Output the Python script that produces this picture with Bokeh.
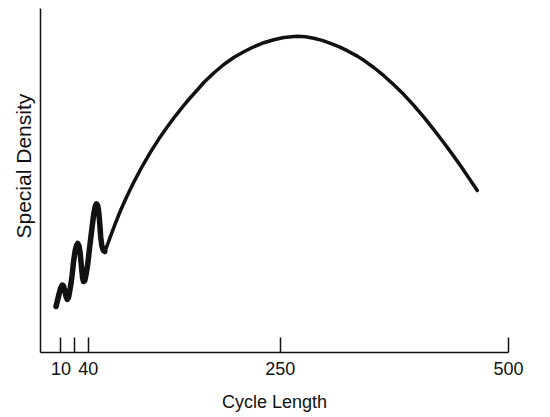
from bokeh.plotting import figure
from bokeh.models import Range1d, FixedTicker, Title
from bokeh.embed import file_html
from bokeh.resources import INLINE

# Curve (cycle length, spectral density in arbitrary units)
cycle_len = [4.6, 6.2, 7.9, 9.5, 11.4, 12.8, 14.1, 15.5, 16.9, 18.3, 19.7, 21.0,
             22.3, 23.7, 25.4, 27.0, 28.4, 29.9, 31.2, 32.5, 33.6, 34.7, 36.1, 37.7,
             39.4, 41.0, 42.7, 44.3, 46.0, 47.6, 48.9, 50.2, 51.3, 52.4, 53.5, 54.7,
             56.4, 58.0,
             61.0, 64.2, 69.7, 75.2, 82.5, 89.8, 99.0, 108.0, 117.1, 126.3, 135.4,
             144.5, 151.8, 159.2, 166.4, 177.3, 188.3, 199.2, 210.2, 221.1, 232.1,
             243.0, 254.0, 268.7, 277.8, 286.8, 296.0, 305.1, 314.2, 323.4, 334.4,
             341.6, 352.5, 363.5, 374.4, 385.4, 396.3, 407.3, 418.2, 429.2, 438.4,
             447.5, 456.6, 465.8]
density = [46, 52, 58.5, 64, 67.5, 66.5, 62, 56, 53, 55, 62, 69,
           78, 90, 101, 107, 109, 106, 98, 85, 75, 71, 72, 79,
           89, 102, 115, 127, 139, 146.5, 148.7, 147, 141, 130, 116, 107,
           102, 101,
           108, 116.2, 129.4, 142, 156.8, 170.4, 186.2, 200.4, 213.4, 225.5, 236.7,
           247.1, 255, 262.5, 270, 279.5, 288, 295, 300.7, 305.7, 309.8,
           312.8, 315, 316.3, 315.7, 314.3, 312.1, 309.2, 305.8, 301.8, 296.4,
           292.2, 285, 276.8, 267.8, 257.9, 247.1, 235.3, 222.8, 209.8, 198.4,
           186.7, 174.6, 162]
n_wiggle = 38  # the short-cycle wiggles are drawn bolder

tick_values = [10, 25, 40, 250, 500]
tick_labels = ["10", "", "40", "250", "500"]

FONT = "Liberation Sans"
INK = "#111111"

p = figure(frame_width=468, frame_height=344, output_backend="svg",
           toolbar_location=None,
           x_range=Range1d(-12.4, 500), y_range=Range1d(0, 344),
           min_border_left=40, min_border_right=34, min_border_top=8,
           min_border_bottom=60)
p.outline_line_color = None
p.xgrid.visible = False
p.ygrid.visible = False
p.background_fill_color = "white"
p.border_fill_color = "white"

p.line(cycle_len, density, line_width=3.5, line_color=INK,
       line_cap="round", line_join="round")
p.line(cycle_len[:n_wiggle], density[:n_wiggle], line_width=5.5, line_color=INK,
       line_cap="round", line_join="round")

xa = p.xaxis[0]
xa.ticker = FixedTicker(ticks=tick_values)
xa.major_label_overrides = {v: s for v, s in zip(tick_values, tick_labels)}
xa.minor_tick_line_color = None
xa.major_tick_in = 15
xa.major_tick_out = 0
xa.major_tick_line_width = 1.5
xa.major_tick_line_color = INK
xa.axis_line_width = 1.5
xa.axis_line_color = INK
xa.major_label_text_font = FONT
xa.major_label_text_font_size = "18px"
xa.major_label_text_color = INK
xa.major_label_standoff = 9
xa.axis_label = "Cycle Length"
xa.axis_label_text_font = FONT
xa.axis_label_text_font_size = "18px"
xa.axis_label_text_font_style = "normal"
xa.axis_label_text_color = INK
xa.axis_label_standoff = 14

ya = p.yaxis[0]
ya.ticker = FixedTicker(ticks=[])
ya.minor_tick_line_color = None
ya.major_tick_line_color = None
ya.axis_line_width = 1.5
ya.axis_line_color = INK
ya.major_label_text_font_size = "0px"

p.add_layout(Title(text="Special Density", align="left", offset=114,
                   text_font=FONT, text_font_size="21px", text_font_style="normal",
                   text_color=INK, standoff=12), "left")

open("out.html", "w").write(file_html(p, INLINE))
